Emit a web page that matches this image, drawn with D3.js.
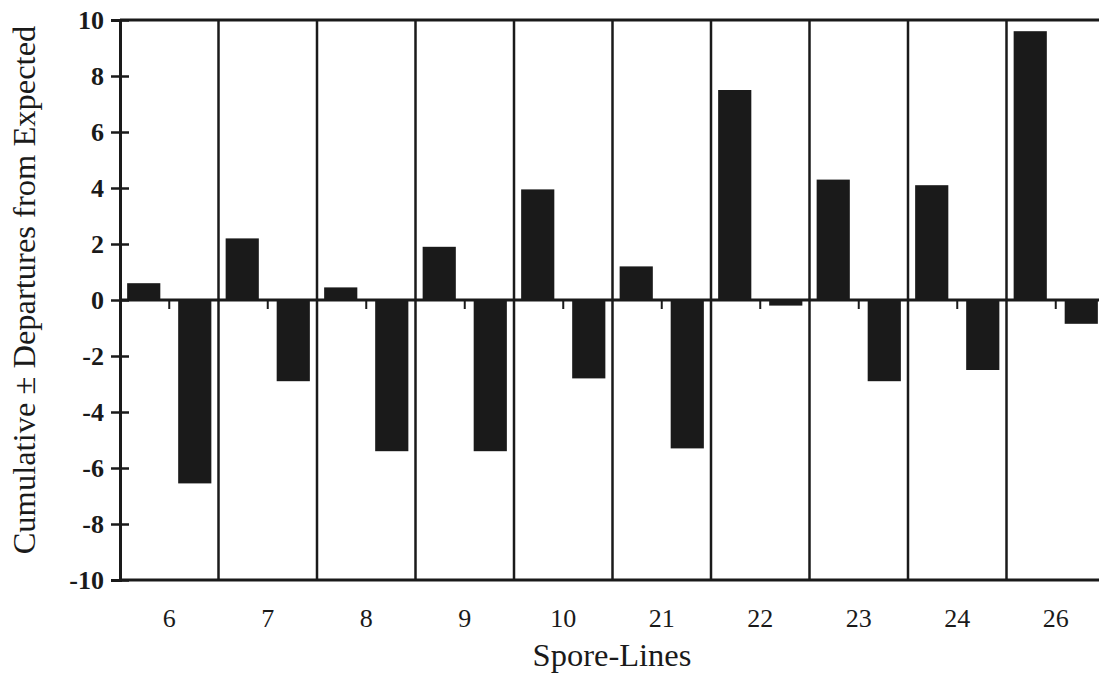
<!DOCTYPE html>
<html>
<head>
<meta charset="utf-8">
<script src="https://cdn.jsdelivr.net/npm/d3@7"></script>
<style>
  html, body { margin: 0; padding: 0; background: #fff; }
  svg { display: block; }
</style>
</head>
<body>
<svg id="chart" width="1099" height="684"></svg>
<script>
// ---- data ----
const categories = ["6", "7", "8", "9", "10", "21", "22", "23", "24", "26"];
const positiveValues = [0.6, 2.2, 0.45, 1.9, 3.95, 1.2, 7.5, 4.3, 4.1, 9.6];
const negativeValues = [-6.55, -2.9, -5.4, -5.4, -2.8, -5.3, -0.2, -2.9, -2.5, -0.85];
const yTicks = [-10, -8, -6, -4, -2, 0, 2, 4, 6, 8, 10];
const seriesNames = ["positive", "negative"];
const yTitle = "Cumulative \u00B1 Departures from Expected";
const xTitle = "Spore-Lines";

(function () {
// ---- layout ----
const mLeft = 120, mRight = 1105, mTop = 20, mBottom = 580;
const ink = "#1a1a1a";
const serif = "'Liberation Serif', 'Times New Roman', serif";

const svg = d3.select("#chart");
svg.append("rect").attr("width", 1099).attr("height", 684).attr("fill", "#fff");

const x = d3.scaleBand().domain(categories).range([mLeft, mRight]).padding(0);
const xs = d3.scaleBand().domain(seriesNames).range([0, x.bandwidth()])
  .paddingInner(0.35).paddingOuter(0.14);
const y = d3.scaleLinear().domain([-10, 10]).range([mBottom, mTop]);

const rows = categories.map((c, i) => ({ cat: c, positive: positiveValues[i], negative: negativeValues[i] }));

// bars
const g = svg.append("g");
rows.forEach(r => {
  seriesNames.forEach(s => {
    const v = r[s];
    g.append("rect")
      .attr("x", x(r.cat) + xs(s))
      .attr("width", xs.bandwidth())
      .attr("y", y(Math.max(0, v)))
      .attr("height", Math.abs(y(v) - y(0)))
      .attr("fill", ink);
  });
});

// category separators
svg.append("g").selectAll("line")
  .data(categories.slice(1))
  .join("line")
  .attr("x1", d => x(d)).attr("x2", d => x(d))
  .attr("y1", mTop).attr("y2", mBottom)
  .attr("stroke", ink).attr("stroke-width", 2.5);

// zero line
svg.append("line")
  .attr("x1", mLeft).attr("x2", mRight)
  .attr("y1", y(0)).attr("y2", y(0))
  .attr("stroke", ink).attr("stroke-width", 3);

// small ticks at centre of each category (below zero line)
svg.append("g").selectAll("line")
  .data(categories)
  .join("line")
  .attr("x1", d => x(d) + x.bandwidth() / 2).attr("x2", d => x(d) + x.bandwidth() / 2)
  .attr("y1", y(0)).attr("y2", y(0) + 9)
  .attr("stroke", ink).attr("stroke-width", 2);

// frame
svg.append("line").attr("x1", mLeft).attr("x2", mRight).attr("y1", mTop).attr("y2", mTop)
  .attr("stroke", ink).attr("stroke-width", 3);
svg.append("line").attr("x1", mLeft).attr("x2", mRight).attr("y1", mBottom).attr("y2", mBottom)
  .attr("stroke", ink).attr("stroke-width", 3);

// y axis
const yAxis = svg.append("g")
  .attr("transform", `translate(${mLeft},0)`)
  .call(d3.axisLeft(y).tickValues(yTicks).tickSize(9).tickPadding(7).tickFormat(d3.format("d")));
yAxis.select(".domain").attr("stroke", ink).attr("stroke-width", 3);
yAxis.selectAll(".tick line").attr("x1", 9).attr("stroke", ink).attr("stroke-width", 2.5);
yAxis.selectAll(".tick text")
  .attr("font-family", serif).attr("font-size", 26).attr("font-weight", "bold")
  .attr("fill", ink).text(d => d);

// x labels
const xAxis = svg.append("g")
  .attr("transform", `translate(0,${mBottom})`)
  .call(d3.axisBottom(x).tickSize(0).tickPadding(0));
xAxis.select(".domain").remove();
xAxis.selectAll(".tick text")
  .attr("font-family", serif).attr("font-size", 26)
  .attr("fill", ink).attr("dy", null).attr("y", 47);

// titles
svg.append("text")
  .attr("transform", "translate(35,290) rotate(-90)")
  .attr("text-anchor", "middle")
  .attr("font-family", serif).attr("font-size", 32.5).attr("fill", ink)
  .text(yTitle);
svg.append("text")
  .attr("x", 612).attr("y", 666)
  .attr("text-anchor", "middle")
  .attr("font-family", serif).attr("font-size", 32.5).attr("fill", ink)
  .text(xTitle);
})();
</script>
</body>
</html>
